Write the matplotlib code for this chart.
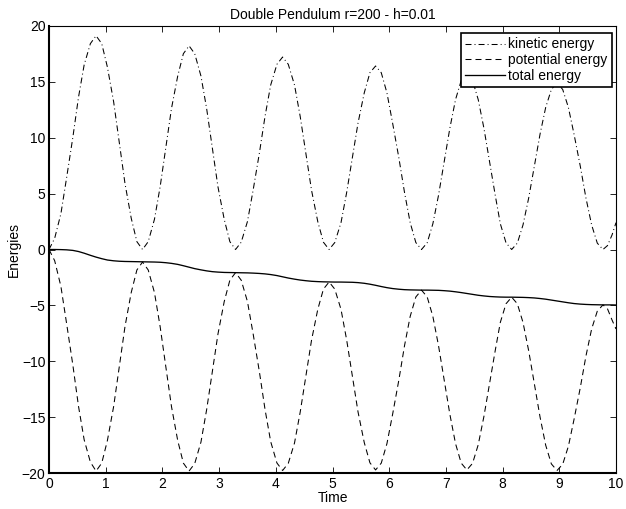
import matplotlib
matplotlib.use("Agg")
import matplotlib.pyplot as plt

plt.rcParams['font.family'] = ['Liberation Sans', 'DejaVu Sans']
plt.rcParams['lines.scale_dashes'] = False

# Sample times (s)
time = [
    0, 0.10, 0.21, 0.31, 0.42, 0.52, 0.62, 0.73, 0.83,
    0.93, 1.03, 1.14, 1.24, 1.34, 1.45, 1.55, 1.65,
    1.75, 1.86, 1.96, 2.06, 2.16, 2.27, 2.37, 2.47,
    2.57, 2.68, 2.78, 2.88, 2.98, 3.09, 3.19, 3.29,
    3.39, 3.50, 3.60, 3.71, 3.81, 3.91, 4.02, 4.12,
    4.22, 4.33, 4.43, 4.53, 4.63, 4.74, 4.84, 4.94,
    5.04, 5.15, 5.25, 5.35, 5.45, 5.56, 5.66, 5.76,
    5.86, 5.96, 6.06, 6.17, 6.27, 6.37, 6.47, 6.57,
    6.67, 6.77, 6.87, 6.97, 7.07, 7.17, 7.27, 7.37,
    7.47, 7.57, 7.67, 7.77, 7.87, 7.96, 8.06, 8.16,
    8.26, 8.36, 8.46, 8.56, 8.66, 8.76, 8.86, 8.96,
    9.06, 9.16, 9.26, 9.37, 9.47, 9.57, 9.67, 9.77,
    9.85, 9.93, 10.0,
]

kinetic = [
    0, 1.0, 3.2, 6.4, 10.0, 13.6, 16.5, 18.4, 19.1,
    18.4, 16.3, 13.2, 9.55, 5.9, 2.8, 0.7, 0,
    0.7, 2.7, 5.6, 9.1, 12.6, 15.5, 17.5, 18.2,
    17.5, 15.5, 12.6, 9.1, 5.6, 2.7, 0.7, 0,
    0.65, 2.5, 5.3, 8.6, 11.9, 14.7, 16.55, 17.2,
    16.55, 14.7, 11.9, 8.6, 5.3, 2.5, 0.65, 0,
    0.62, 2.4, 5.1, 8.2, 11.3, 14.0, 15.8, 16.4,
    15.8, 14.0, 11.3, 8.2, 5.1, 2.4, 0.62, 0,
    0.6, 2.3, 4.85, 7.85, 10.85, 13.4, 15.1, 15.7,
    15.1, 13.4, 10.85, 7.85, 4.85, 2.3, 0.6, 0,
    0.57, 2.2, 4.6, 7.45, 10.3, 12.7, 14.3, 14.9,
    14.3, 12.7, 10.3, 7.45, 4.6, 2.2, 0.57, 0,
    0.35, 1.3, 2.4,
]

potential = [
    0, -1.0, -3.3, -6.6, -10.3, -14.0, -17.0, -19.0, -19.8,
    -19.09, -17.07, -14.03, -10.46, -6.89, -3.85, -1.83, -1.12,
    -1.83, -3.85, -6.89, -10.46, -14.03, -17.07, -19.09, -19.8,
    -19.13, -17.21, -14.32, -10.94, -7.55, -4.66, -2.74, -2.07,
    -2.74, -4.65, -7.53, -10.91, -14.29, -17.17, -19.08, -19.75,
    -19.11, -17.29, -14.54, -11.33, -8.11, -5.36, -3.54, -2.90,
    -3.54, -5.35, -8.09, -11.3, -14.51, -17.25, -19.06, -19.7,
    -19.09, -17.35, -14.73, -11.67, -8.6, -5.98, -4.24, -3.63,
    -4.24, -5.98, -8.6, -11.67, -14.73, -17.35, -19.09, -19.7,
    -19.11, -17.45, -14.93, -11.98, -9.03, -6.51, -4.85, -4.26,
    -4.85, -6.52, -9.05, -12.0, -14.96, -17.49, -19.16, -19.75,
    -19.19, -17.59, -15.18, -12.35, -9.52, -7.11, -5.51, -4.95,
    -5.3, -6.3, -7.1,
]

total = [
    0, 0, -0.01, -0.03, -0.08, -0.18, -0.33, -0.52, -0.68,
    -0.82, -0.94, -1.01, -1.05, -1.07, -1.08, -1.09, -1.10,
    -1.11, -1.12, -1.14, -1.18, -1.24, -1.33, -1.45, -1.58,
    -1.71, -1.82, -1.91, -1.98, -2.02, -2.05, -2.06, -2.07,
    -2.08, -2.09, -2.11, -2.14, -2.18, -2.24, -2.33, -2.44,
    -2.55, -2.65, -2.73, -2.79, -2.84, -2.87, -2.89, -2.90,
    -2.91, -2.91, -2.92, -2.93, -2.96, -3.02, -3.10, -3.20,
    -3.31, -3.41, -3.49, -3.55, -3.59, -3.61, -3.62, -3.63,
    -3.63, -3.64, -3.65, -3.68, -3.72, -3.78, -3.85, -3.93,
    -4.01, -4.09, -4.15, -4.20, -4.23, -4.25, -4.26, -4.26,
    -4.27, -4.28, -4.30, -4.33, -4.38, -4.44, -4.52, -4.60,
    -4.68, -4.76, -4.83, -4.88, -4.91, -4.93, -4.94, -4.95,
    -4.95, -4.95, -4.96,
]

x_ticks = list(range(0, 11))
y_ticks = [-20, -15, -10, -5, 0, 5, 10, 15, 20]

fig = plt.figure(figsize=(6.26, 5.09), dpi=100)
ax = fig.add_axes([49 / 626, 35.7 / 509, 567 / 626, 447.6 / 509])

ax.plot(time, kinetic, color='black', lw=0.75,
        linestyle=(0, (4.3, 2.2, 0.7, 2.2)), label='kinetic energy')
ax.plot(time, potential, color='black', lw=0.75,
        linestyle=(0, (4.3, 2.9)), label='potential energy')
ax.plot(time, total, color='black', lw=0.95, linestyle='-',
        label='total energy')

ax.set_xlim(0, 10)
ax.set_ylim(-20, 20)
ax.set_xticks(x_ticks)
ax.set_yticks(y_ticks)
ax.tick_params(direction='in', length=4, width=0.6, top=True, right=True,
               labelsize=10, pad=2.5, colors='black')

for side in ('left', 'bottom'):
    ax.spines[side].set_linewidth(1.5)
for side in ('top', 'right'):
    ax.spines[side].set_linewidth(0.8)

ax.set_title('Double Pendulum r=200 - h=0.01', fontsize=10, pad=5)
ax.set_xlabel('Time', fontsize=10, labelpad=0)
ax.set_ylabel('Energies', fontsize=10, labelpad=0.5)

leg = ax.legend(loc='upper right', bbox_to_anchor=(0.9924, 0.983),
                borderaxespad=0, fontsize=10, handlelength=2.9,
                handletextpad=0.2, labelspacing=0.12, borderpad=0.3,
                fancybox=False, framealpha=1)
leg.get_frame().set_edgecolor('black')
leg.get_frame().set_linewidth(1.2)

fig.savefig('out.png', dpi=100)
